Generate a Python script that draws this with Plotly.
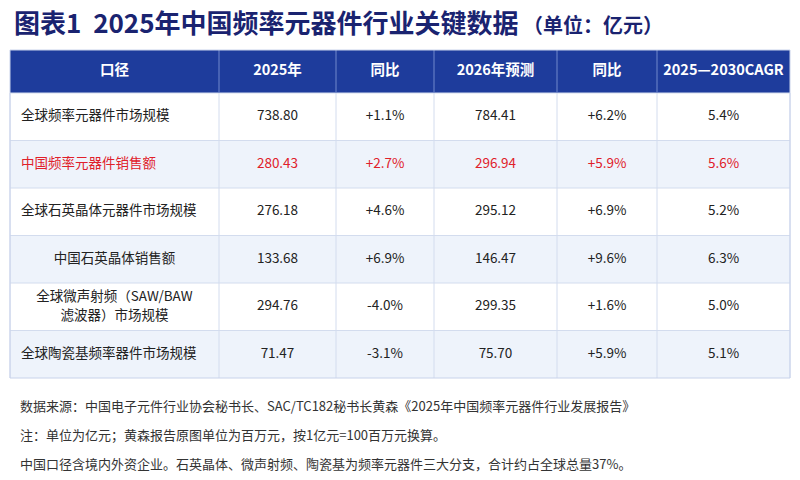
import plotly.graph_objects as go

names = ["全球频率元器件市场规模", "中国频率元器件销售额", "全球石英晶体元器件市场规模",
         "中国石英晶体销售额", "全球微声射频（SAW/BAW<br>滤波器）市场规模", "全球陶瓷基频率器件市场规模"]
v2025 = ["738.80", "280.43", "276.18", "133.68", "294.76", "71.47"]
yoy2025 = ["+1.1%", "+2.7%", "+4.6%", "+6.9%", "-4.0%", "-3.1%"]
v2026 = ["784.41", "296.94", "295.12", "146.47", "299.35", "75.70"]
yoy2026 = ["+6.2%", "+5.9%", "+6.9%", "+9.6%", "+1.6%", "+5.9%"]
cagr = ["5.4%", "5.6%", "5.2%", "6.3%", "5.0%", "5.1%"]
headers = ["口径", "2025年", "同比", "2026年预测", "同比", "2025—2030CAGR"]
centered_name = [False, False, False, True, True, False]

# layout geometry (pixels); page body has an 8px offset, compensated in the axis ranges
col_edges = [10, 219, 336, 434, 557, 657, 790]
top, head_h, row_h = 50, 43, 47.5
line_gap = 19
n = len(names)
FONT = "Noto Sans CJK SC"
bottom = top + head_h + n * row_h

fill_rows = ["white" if i % 2 == 0 else "#eef3fb" for i in range(n)]
font_rows = ["#e0202a" if i == 1 else "#222222" for i in range(n)]

fig = go.Figure()
shapes = []
shapes.append(dict(type="rect", x0=col_edges[0], x1=col_edges[-1], y0=top, y1=top + head_h,
                   fillcolor="#1e3c9c", line_width=0, layer="below"))
for i in range(n):
    y0 = top + head_h + i * row_h
    shapes.append(dict(type="rect", x0=col_edges[0], x1=col_edges[-1], y0=y0, y1=y0 + row_h,
                       fillcolor=fill_rows[i], line_width=0, layer="below"))
    shapes.append(dict(type="line", x0=col_edges[0], x1=col_edges[-1], y0=y0, y1=y0,
                       line=dict(color="#d3dcee", width=1), layer="below"))
for j, x in enumerate(col_edges):
    if 0 < j < len(col_edges) - 1:
        shapes.append(dict(type="line", x0=x, x1=x, y0=top, y1=top + head_h,
                           line=dict(color="#7088cc", width=1), layer="below"))
    shapes.append(dict(type="line", x0=x, x1=x, y0=top + head_h, y1=bottom,
                       line=dict(color="#d3dcee", width=1), layer="below"))
shapes.append(dict(type="rect", x0=col_edges[0], x1=col_edges[-1], y0=top, y1=bottom,
                   line=dict(color="#c8d2ea", width=1), layer="below"))

centers = [(col_edges[i] + col_edges[i + 1]) / 2 for i in range(6)]
row_y = [top + head_h + row_h * (i + 0.5) for i in range(n)]
fig.add_trace(go.Scatter(x=centers, y=[top + head_h / 2] * 6, mode="text",
                         text=[f"<b>{h}</b>" for h in headers],
                         textfont=dict(color="white", size=14.5, family=FONT), hoverinfo="skip"))
for col_i, vals in enumerate([v2025, yoy2025, v2026, yoy2026, cagr], start=1):
    fig.add_trace(go.Scatter(x=[centers[col_i]] * n, y=row_y, mode="text", text=vals,
                             textfont=dict(color=font_rows, size=13.5, family=FONT), hoverinfo="skip"))

# first column: split multi-line names into separate lines with explicit spacing
nx, ny, nt, npos, ncol = [], [], [], [], []
for i, s in enumerate(names):
    parts = s.split("<br>")
    for k, p in enumerate(parts):
        nx.append(centers[0] if centered_name[i] else 21)
        ny.append(row_y[i] + (k - (len(parts) - 1) / 2) * line_gap)
        nt.append(p)
        npos.append("middle center" if centered_name[i] else "middle right")
        ncol.append(font_rows[i])
fig.add_trace(go.Scatter(x=nx, y=ny, mode="text", text=nt, textposition=npos,
                         textfont=dict(color=ncol, size=13.5, family=FONT), hoverinfo="skip"))

fig.add_annotation(x=12, y=21, xref="x", yref="y", xanchor="left", yanchor="middle",
                   showarrow=False,
                   text="<b>图表1  2025年中国频率元器件行业关键数据<span style='font-size:20px'> （单位：亿元）</span></b>",
                   font=dict(size=26, color="#1a2370", family=FONT))
foot = ["数据来源：中国电子元件行业协会秘书长、SAC/TC182秘书长黄森《2025年中国频率元器件行业发展报告》",
        "注：单位为亿元；黄森报告原图单位为百万元，按1亿元=100百万元换算。",
        "中国口径含境内外资企业。石英晶体、微声射频、陶瓷基为频率元器件三大分支，合计约占全球总量37%。"]
for i, t in enumerate(foot):
    fig.add_annotation(x=18, y=405 + i * 29, xref="x", yref="y", xanchor="left",
                       yanchor="middle", showarrow=False, text=t,
                       font=dict(size=13, color="#333333", family=FONT))

fig.update_layout(width=800, height=480, margin=dict(l=0, r=0, t=0, b=0), paper_bgcolor="white",
                  plot_bgcolor="rgba(0,0,0,0)", showlegend=False, shapes=shapes,
                  xaxis=dict(range=[8, 808], visible=False, fixedrange=True),
                  yaxis=dict(range=[488, 8], visible=False, fixedrange=True))
fig.write_html("out.html")
